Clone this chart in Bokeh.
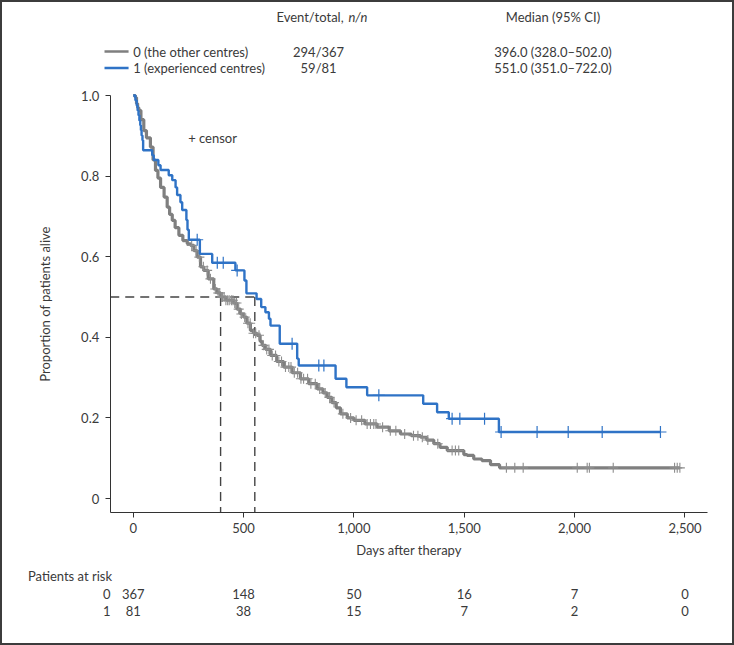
import numpy as np
from bokeh.plotting import figure
from bokeh.models import Range1d, NumeralTickFormatter, FixedTicker, Label
from bokeh.embed import file_html
from bokeh.resources import INLINE

FONT = "Lato"
TXT = "#3a3a3a"
GRAY = "#7f7f7f"
GRAY_C = "#8e8e8e"
BLUE = "#2f73c6"

# ---------------- data ----------------
group_labels = ["0 (the other centres)", "1 (experienced centres)"]
events_total = ["294/367", "59/81"]
median_text = ["396.0 (328.0\u2013502.0)", "551.0 (351.0\u2013722.0)"]
median_days = [396.0, 551.0]

# group 0 (the other centres): step knots (time, survival after step)
gray_t = [0, 10, 15, 20, 25, 35, 48, 60, 78, 90, 101, 112, 124, 140, 154, 165, 177, 190,
          207, 225, 245, 260, 275, 290, 305, 320, 340, 365, 380, 396, 420, 456, 470, 486,
          501, 515, 531, 545, 561, 575, 584, 600, 622, 650, 682, 720, 758, 795, 834, 860,
          879, 900, 920, 939, 970, 1000, 1050, 1105, 1160, 1211, 1260, 1302, 1330, 1362,
          1390, 1423, 1498, 1513, 1543, 1580, 1619, 1660]
gray_s = [1.0, 0.995, 0.98, 0.97, 0.963, 0.94, 0.913, 0.895, 0.872, 0.84, 0.814, 0.795,
          0.772, 0.748, 0.723, 0.705, 0.69, 0.672, 0.653, 0.64, 0.632, 0.628, 0.615, 0.599,
          0.575, 0.566, 0.545, 0.52, 0.51, 0.5, 0.492, 0.485, 0.47, 0.458, 0.45, 0.435,
          0.417, 0.41, 0.405, 0.39, 0.38, 0.37, 0.355, 0.34, 0.326, 0.312, 0.297, 0.285,
          0.272, 0.262, 0.251, 0.238, 0.225, 0.21, 0.2, 0.194, 0.185, 0.177, 0.168, 0.16,
          0.156, 0.152, 0.145, 0.136, 0.127, 0.119, 0.109, 0.107, 0.098, 0.094, 0.084, 0.076]
gray_end = 2477
gray_censor = [265, 285, 300, 318, 335, 350, 372, 385, 392, 400, 405, 412, 420, 428, 435,
               445, 452, 460, 468, 478, 490, 505, 520, 530, 545, 555, 570, 590, 605, 615,
               630, 645, 660, 672, 690, 705, 715, 730, 745, 760, 772, 790, 805, 825, 845,
               870, 890, 910, 950, 985, 1010, 1035, 1060, 1075, 1090, 1100, 1130, 1165,
               1190, 1230, 1270, 1290, 1310, 1335, 1380, 1445, 1460, 1475, 1691, 1729,
               1767, 2012, 2057, 2067, 2175, 2453, 2465, 2477]

# group 1 (experienced centres)
blue_t = [0, 10, 16, 20, 24, 28, 32, 35, 38, 42, 45, 86, 93, 114, 124, 161, 177, 192, 199,
          214, 222, 241, 246, 252, 302, 358, 463, 504, 513, 559, 580, 599, 615, 622, 664,
          743, 750, 917, 966, 1060, 1314, 1377, 1430, 1657]
blue_s = [1.0, 0.988, 0.975, 0.963, 0.951, 0.938, 0.926, 0.914, 0.901, 0.889, 0.864,
          0.852, 0.84, 0.827, 0.815, 0.802, 0.79, 0.772, 0.753, 0.735, 0.716, 0.691, 0.667,
          0.642, 0.607, 0.585, 0.566, 0.541, 0.509, 0.495, 0.475, 0.462, 0.446, 0.429,
          0.384, 0.347, 0.33, 0.297, 0.276, 0.256, 0.235, 0.214, 0.198, 0.165]
blue_end = 2389
blue_censor = [290, 381, 408, 471, 720, 841, 864, 1113, 1445, 1480, 1592, 1667, 1830,
               1971, 2125, 2389]

risk_times = [0, 500, 1000, 1500, 2000, 2500]
risk_0 = [367, 148, 50, 16, 7, 0]
risk_1 = [81, 38, 15, 7, 2, 0]

x_ticks = [0, 500, 1000, 1500, 2000, 2500]
y_ticks = [0, 0.2, 0.4, 0.6, 0.8, 1.0]
y_tick_labels = ["0", "0.2", "0.4", "0.6", "0.8", "1.0"]


def surv_at(t_list, s_list, times):
    t = np.asarray(t_list, dtype=float)
    s = np.asarray(s_list, dtype=float)
    idx = np.searchsorted(t, np.asarray(times, dtype=float), side="right") - 1
    return s[idx]


# ---------------- layout (pixels) ----------------
W, H = 734, 645
KX = 0.2207          # px per day
KY = 403.0           # px per unit survival
X0_PX = 132.7        # canvas x of day 0
Y0_PX = 498.0        # canvas y (from top) of survival 0
xs = -X0_PX / KX
ys = -(H - Y0_PX) / KY
AX_X = -104.0        # where the y axis sits (days)
AX_Y = -0.035        # where the x axis sits (survival)

p = figure(width=W, height=H,
           x_range=Range1d(xs, xs + W / KX), y_range=Range1d(ys, ys + H / KY),
           output_backend="svg", toolbar_location=None,
           min_border=0, min_border_left=0, min_border_right=0,
           min_border_top=0, min_border_bottom=0)
p.grid.visible = False
p.outline_line_color = "#3c3c3c"
p.outline_line_width = 3
p.background_fill_color = "white"
p.border_fill_color = "white"

for ax in (p.xaxis[0], p.yaxis[0]):
    ax.axis_line_color = "#333333"
    ax.major_tick_line_color = "#333333"
    ax.minor_tick_line_color = None
    ax.major_tick_out = 5
    ax.major_tick_in = 0
    ax.major_label_text_font = FONT
    ax.major_label_text_font_size = "13px"
    ax.major_label_text_color = TXT
    ax.axis_label_text_font = FONT
    ax.axis_label_text_font_size = "13px"
    ax.axis_label_text_color = TXT
    ax.axis_label_text_font_style = "normal"

p.xaxis.fixed_location = AX_Y
p.xaxis.bounds = (AX_X, 2602)
p.xaxis.ticker = FixedTicker(ticks=x_ticks)
p.xaxis.formatter = NumeralTickFormatter(format="0,0")
p.xaxis.axis_label = "Days after therapy"
p.xaxis.major_label_standoff = 5
p.xaxis.axis_label_standoff = 6

p.yaxis.fixed_location = AX_X
p.yaxis.bounds = (AX_Y, 1.0)
p.yaxis.ticker = FixedTicker(ticks=y_ticks)
p.yaxis.major_label_overrides = {v: l for v, l in zip(y_ticks, y_tick_labels)}
p.yaxis.axis_label = "Proportion of patients alive"
p.yaxis.major_label_standoff = 6
p.yaxis.axis_label_standoff = 25

# median reference lines
p.segment(x0=[AX_X], y0=[0.5], x1=[max(median_days)], y1=[0.5],
          line_color="#444444", line_width=1.4, line_dash="9 6")
p.segment(x0=median_days, y0=[0.5, 0.5], x1=median_days, y1=[AX_Y, AX_Y],
          line_color="#444444", line_width=1.4, line_dash="9 6")

# curves
gx = gray_t + [gray_end]
gy = gray_s + [gray_s[-1]]
p.step(gx, gy, mode="after", line_color=GRAY, line_width=3.2)
p.scatter(gray_censor, surv_at(gray_t, gray_s, gray_censor), marker="cross", size=10,
          line_color=GRAY_C, line_width=1.1)

bx = blue_t + [blue_end]
by = blue_s + [blue_s[-1]]
p.step(bx, by, mode="after", line_color=BLUE, line_width=2.4)
p.scatter(blue_censor, surv_at(blue_t, blue_s, blue_censor), marker="cross", size=12,
          line_color=BLUE, line_width=1.2)


def lab(x, y, text, align="left", style="normal"):
    p.add_layout(Label(x=x, y=y, text=text, text_font=FONT, text_font_size="13px",
                       text_color=TXT, text_baseline="middle", text_align=align,
                       text_font_style=style))


lab(249, 0.895, "+ censor")

# header / legend
hy = 1.194
rows_y = [1.109, 1.068]
colors = [GRAY, BLUE]
lab(649, hy, "Event/total,")
lab(975, hy, "n/n", style="italic")
lab(1902, hy, "Median (95% CI)", align="center")
p.segment(x0=[-130, -130], y0=rows_y, x1=[-21, -21], y1=rows_y,
          line_color=colors, line_width=2.5)
for i in range(2):
    lab(0, rows_y[i], group_labels[i])
    lab(840, rows_y[i], events_total[i], align="center")
    lab(1902, rows_y[i], median_text[i], align="center")

# risk table
lab(-477, -0.193, "Patients at risk")
for name, row, ry in (("0", risk_0, -0.236), ("1", risk_1, -0.280)):
    lab(-120, ry, name, align="center")
    for t, n in zip(risk_times, row):
        lab(t, ry, str(n), align="center")

open("out.html", "w").write(file_html(p, INLINE))
